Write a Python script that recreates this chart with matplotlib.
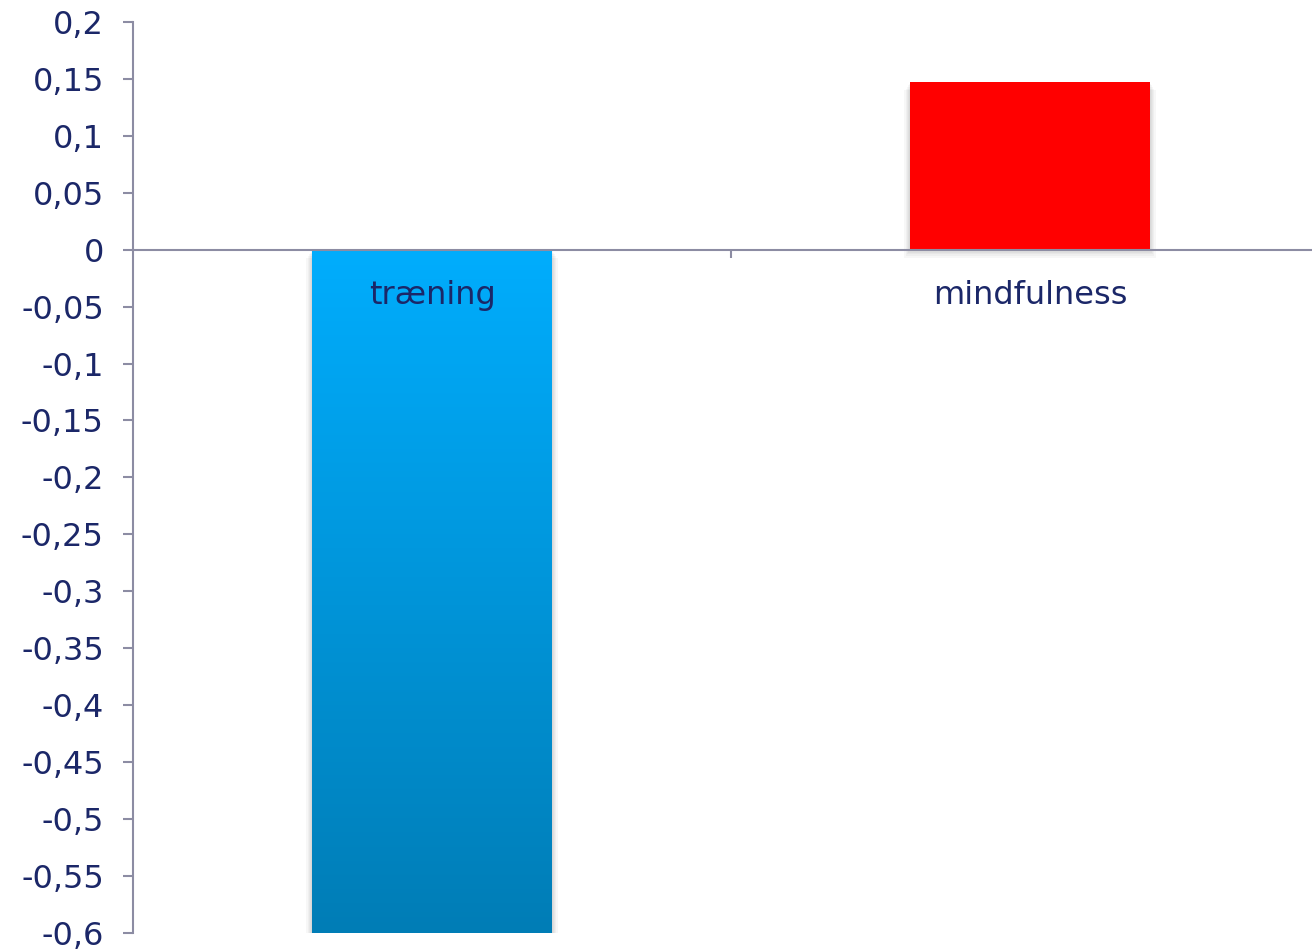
import numpy as np
import matplotlib.pyplot as plt
from matplotlib.colors import LinearSegmentedColormap
from matplotlib.patches import Rectangle

categories = ['træning', 'mindfulness']
values = [-0.6, 0.147]
yticks = [0.2, 0.15, 0.1, 0.05, 0, -0.05, -0.1, -0.15, -0.2, -0.25, -0.3,
          -0.35, -0.4, -0.45, -0.5, -0.55, -0.6]

text_col = '#1b2768'
axis_col = '#8c8ca3'

fig = plt.figure(figsize=(13.12, 9.52), dpi=100)
ax = fig.add_axes([0.1014, 0.02, 0.9116, 0.957])

x = np.arange(len(categories))
bars = ax.bar(x, values, width=0.4, color=['none', '#ff0000'], zorder=3)

# soft drop shadow behind each bar
for b in bars:
    for k in range(1, 6):
        off = 0.0014 * k
        sh = Rectangle((b.get_x() - 0.002 * k, b.get_y() - off),
                       b.get_width() + 0.004 * k, b.get_height(),
                       facecolor='#000000', alpha=0.03, edgecolor='none', zorder=2)
        ax.add_patch(sh)

# vertical gradient for the blue bar: dark at the bottom, light at the top
blue = LinearSegmentedColormap.from_list('blue', ['#007db6', '#00adfd'])
b0 = bars[0]
y_lo = b0.get_y() + min(0, b0.get_height())
y_hi = b0.get_y() + max(0, b0.get_height())
grad = np.linspace(0, 1, 256).reshape(-1, 1)
img = ax.imshow(grad, cmap=blue, aspect='auto', origin='lower',
                extent=[b0.get_x(), b0.get_x() + b0.get_width(), y_lo, y_hi],
                zorder=3)
img.set_clip_path(b0)

ax.set_xlim(-0.5, 1.5)
ax.set_ylim(-0.6, 0.2)

ax.set_yticks(yticks)
ax.set_yticklabels([('%g' % t).replace('.', ',') for t in yticks])
ax.set_xticks([0.5])
ax.set_xticklabels([])

for s in ['top', 'right']:
    ax.spines[s].set_visible(False)
ax.spines['bottom'].set_position(('data', 0))
for s in ['left', 'bottom']:
    ax.spines[s].set_color(axis_col)
    ax.spines[s].set_linewidth(1.5)
    ax.spines[s].set_zorder(4)

ax.tick_params(axis='y', direction='out', length=7, width=1.5, color=axis_col,
               labelcolor=text_col, labelsize=23, pad=14)
ax.tick_params(axis='x', direction='out', length=6, width=1.5, color=axis_col)

for xi, name in zip(x, categories):
    ax.text(xi, -0.04, name, ha='center', va='center', fontsize=23,
            color=text_col, zorder=5)

fig.savefig('out.png', dpi=100)
